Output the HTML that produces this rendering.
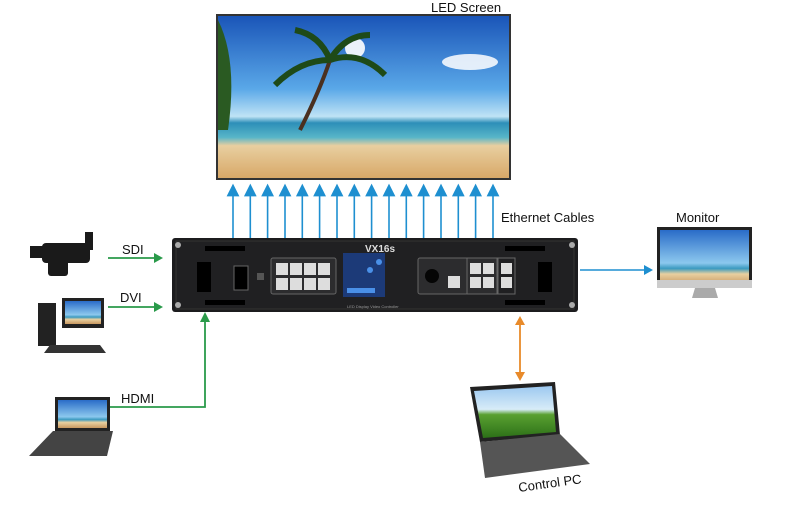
<!DOCTYPE html>
<html><head><meta charset="utf-8"><style>
body{margin:0;background:#fff;width:800px;height:506px;overflow:hidden}
svg{display:block}
text{font-family:"Liberation Sans",sans-serif}
</style></head><body>
<svg width="800" height="506" viewBox="0 0 800 506">
<defs>
<linearGradient id="sky" x1="0" y1="0" x2="0" y2="1"><stop offset="0" stop-color="#1a55b8"/><stop offset="0.45" stop-color="#5aa8e8"/><stop offset="0.62" stop-color="#bfe3f5"/><stop offset="0.66" stop-color="#2d8fb8"/><stop offset="0.75" stop-color="#58b6c8"/><stop offset="0.8" stop-color="#e8cfa0"/><stop offset="1" stop-color="#d8a868"/></linearGradient>
<linearGradient id="sky2" x1="0" y1="0" x2="0" y2="1"><stop offset="0" stop-color="#2a6cc8"/><stop offset="0.6" stop-color="#8cc8ee"/><stop offset="0.7" stop-color="#3a9ac0"/><stop offset="0.8" stop-color="#e8d0a0"/><stop offset="1" stop-color="#c89860"/></linearGradient>
<linearGradient id="grass" x1="0" y1="0" x2="0" y2="1"><stop offset="0" stop-color="#9cc8f0"/><stop offset="0.45" stop-color="#d8ecf8"/><stop offset="0.55" stop-color="#5aa030"/><stop offset="1" stop-color="#2c7018"/></linearGradient>
<marker id="ab" markerWidth="8" markerHeight="8" refX="4" refY="4" orient="auto"><path d="M0,0 L8,4 L0,8z" fill="#1e8fd0"/></marker>
</defs>
<!-- LED screen -->
<text x="431" y="12" font-size="13" fill="#111">LED Screen</text>
<rect x="216" y="14" width="295" height="166" fill="#333"/>
<rect x="218" y="16" width="291" height="162" fill="url(#sky)"/>
<circle cx="355" cy="48" r="10" fill="#fff" opacity="0.9"/>
<ellipse cx="470" cy="62" rx="28" ry="8" fill="#fff" opacity="0.85"/>
<path d="M300,130 Q320,90 330,60" stroke="#4a3020" stroke-width="4" fill="none"/>
<path d="M330,60 q-30,0 -55,25 M330,60 q30,-10 55,15 M330,60 q-10,-25 -35,-30 M330,60 q15,-25 40,-25" stroke="#1e4a18" stroke-width="6" fill="none"/>
<path d="M218,20 q20,40 10,110 l-10,0z" fill="#2a5a22"/>
<!-- Ethernet arrows -->
<g stroke="#1e8fd0" stroke-width="1.6">
<line x1="233" y1="238" x2="233" y2="190" marker-end="url(#ab)"/>
<line x1="250.3" y1="238" x2="250.3" y2="190" marker-end="url(#ab)"/>
<line x1="267.6" y1="238" x2="267.6" y2="190" marker-end="url(#ab)"/>
<line x1="285" y1="238" x2="285" y2="190" marker-end="url(#ab)"/>
<line x1="302.3" y1="238" x2="302.3" y2="190" marker-end="url(#ab)"/>
<line x1="319.6" y1="238" x2="319.6" y2="190" marker-end="url(#ab)"/>
<line x1="337" y1="238" x2="337" y2="190" marker-end="url(#ab)"/>
<line x1="354.3" y1="238" x2="354.3" y2="190" marker-end="url(#ab)"/>
<line x1="371.6" y1="238" x2="371.6" y2="190" marker-end="url(#ab)"/>
<line x1="389" y1="238" x2="389" y2="190" marker-end="url(#ab)"/>
<line x1="406.3" y1="238" x2="406.3" y2="190" marker-end="url(#ab)"/>
<line x1="423.6" y1="238" x2="423.6" y2="190" marker-end="url(#ab)"/>
<line x1="441" y1="238" x2="441" y2="190" marker-end="url(#ab)"/>
<line x1="458.3" y1="238" x2="458.3" y2="190" marker-end="url(#ab)"/>
<line x1="475.6" y1="238" x2="475.6" y2="190" marker-end="url(#ab)"/>
<line x1="493" y1="238" x2="493" y2="190" marker-end="url(#ab)"/>
</g>
<text x="501" y="222" font-size="13" fill="#111">Ethernet Cables</text>
<!-- Device -->
<rect x="172" y="238" width="406" height="74" rx="3" fill="#1c1c1e"/>
<rect x="176" y="241" width="398" height="68" fill="#202022" stroke="#333"/>
<rect x="205" y="246" width="40" height="5" fill="#000"/><rect x="505" y="246" width="40" height="5" fill="#000"/>
<rect x="205" y="300" width="40" height="5" fill="#000"/><rect x="505" y="300" width="40" height="5" fill="#000"/>
<g fill="#000"><rect x="197" y="262" width="14" height="30"/><rect x="538" y="262" width="14" height="30"/></g>
<text x="365" y="252" font-size="10" font-weight="bold" fill="#ddd">VX16s</text>
<rect x="234" y="266" width="14" height="24" fill="#000" stroke="#666"/>
<rect x="257" y="273" width="7" height="7" fill="#555"/>
<rect x="271" y="258" width="65" height="36" rx="2" fill="#2c2c2e" stroke="#666"/>
<g fill="#ddd"><rect x="276" y="263" width="12" height="12"/><rect x="290" y="263" width="12" height="12"/><rect x="304" y="263" width="12" height="12"/><rect x="318" y="263" width="12" height="12"/>
<rect x="276" y="278" width="12" height="12"/><rect x="290" y="278" width="12" height="12"/><rect x="304" y="278" width="12" height="12"/><rect x="318" y="278" width="12" height="12"/></g>
<rect x="343" y="253" width="42" height="44" fill="#1c3a78"/>
<g fill="#4a90e8"><rect x="347" y="288" width="28" height="5"/><circle cx="379" cy="262" r="3"/><circle cx="370" cy="270" r="3"/></g>
<text x="347" y="308" font-size="4" fill="#999">LED Display Video Controller</text>
<rect x="418" y="258" width="50" height="36" rx="2" fill="#2c2c2e" stroke="#666"/>
<circle cx="432" cy="276" r="7" fill="#050505"/>
<rect x="448" y="276" width="12" height="12" fill="#ddd"/>
<rect x="467" y="258" width="30" height="36" fill="#2c2c2e" stroke="#666"/>
<g fill="#ddd"><rect x="470" y="263" width="11" height="11"/><rect x="483" y="263" width="11" height="11"/><rect x="470" y="277" width="11" height="11"/><rect x="483" y="277" width="11" height="11"/>
<rect x="501" y="263" width="11" height="11"/><rect x="501" y="277" width="11" height="11"/></g>
<rect x="498" y="258" width="17" height="36" fill="none" stroke="#666"/>
<g fill="#aaa"><circle cx="178" cy="245" r="3"/><circle cx="572" cy="245" r="3"/><circle cx="178" cy="305" r="3"/><circle cx="572" cy="305" r="3"/></g>
<!-- Green inputs -->
<g stroke="#2a9a4a" stroke-width="1.8" fill="none">
<line x1="108" y1="258" x2="155" y2="258"/><line x1="108" y1="307" x2="155" y2="307"/>
<polyline points="108,407 205,407 205,322"/></g>
<g fill="#2a9a4a"><path d="M163,258 l-9,-5 v10z"/><path d="M163,307 l-9,-5 v10z"/><path d="M205,312 l-5,10 h10z"/></g>
<text x="122" y="254" font-size="13" fill="#111">SDI</text>
<text x="120" y="302" font-size="13" fill="#111">DVI</text>
<text x="121" y="403" font-size="13" fill="#111">HDMI</text>
<!-- Monitor arrow -->
<line x1="580" y1="270" x2="645" y2="270" stroke="#1e8fd0" stroke-width="1.6"/>
<path d="M653,270 l-9,-5 v10z" fill="#1e8fd0"/>
<text x="676" y="222" font-size="13" fill="#111">Monitor</text>
<!-- Orange -->
<line x1="520" y1="325" x2="520" y2="372" stroke="#e88a2a" stroke-width="1.8"/>
<path d="M520,316 l-5,9 h10z M520,381 l-5,-9 h10z" fill="#e88a2a"/>
<!-- camera -->
<g fill="#1a1a1a"><rect x="42" y="243" width="48" height="20" rx="4"/><rect x="48" y="258" width="20" height="18" rx="3"/><rect x="30" y="246" width="14" height="12"/><rect x="85" y="232" width="8" height="18"/></g>
<!-- PC -->
<rect x="62" y="298" width="42" height="30" fill="#222"/><rect x="65" y="301" width="36" height="23" fill="url(#sky2)"/>
<rect x="38" y="303" width="18" height="43" fill="#222"/>
<path d="M50,345 h50 l6,8 h-62z" fill="#333"/>
<!-- laptop -->
<rect x="55" y="397" width="55" height="34" fill="#222"/><rect x="58" y="400" width="49" height="28" fill="url(#sky2)"/>
<path d="M53,431 h60 l-6,25 h-78z" fill="#444"/>
<!-- Monitor -->
<rect x="657" y="227" width="95" height="61" fill="#222"/><rect x="660" y="230" width="89" height="55" fill="url(#sky2)"/>
<rect x="657" y="280" width="95" height="8" fill="#ccc"/>
<path d="M695,288 h20 l3,10 h-26z" fill="#aaa"/>
<!-- Control PC -->
<path d="M470,387 l85,-5 l5,53 l-80,7z" fill="#222"/>
<path d="M474,391 l78,-5 l4,46 l-73,6z" fill="url(#grass)"/>
<path d="M480,442 l80,-8 l30,30 l-105,14z" fill="#555"/>
<text x="519" y="492" font-size="13" fill="#111" transform="rotate(-8 519 492)">Control PC</text>
</svg>
</body></html>
